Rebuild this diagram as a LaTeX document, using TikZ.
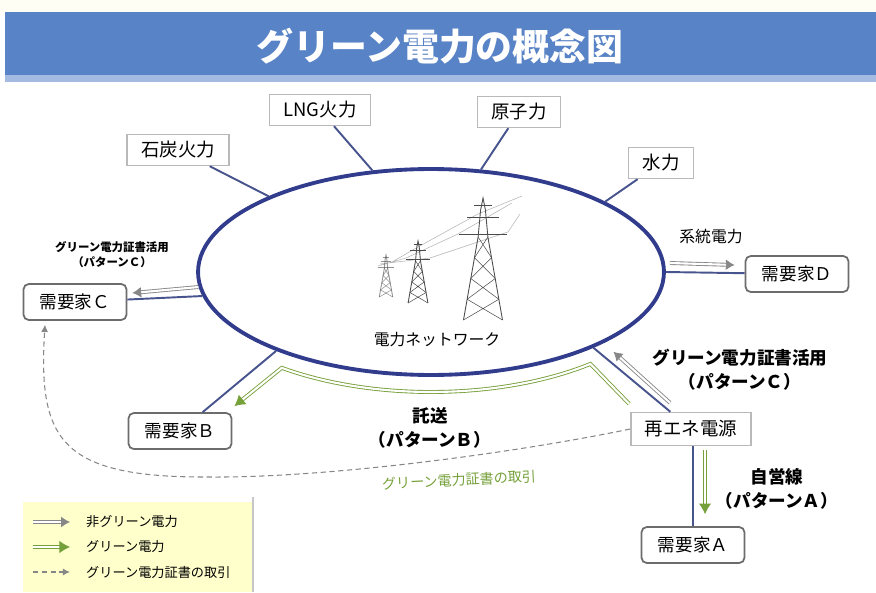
\documentclass[tikz,border=0pt]{standalone}
\usepackage{fontspec}
\setmainfont{Noto Sans CJK JP}
\usetikzlibrary{arrows.meta,shapes.geometric}
\definecolor{barblue}{RGB}{88,131,198}
\definecolor{netblue}{RGB}{50,60,140}
\definecolor{linkblue}{RGB}{72,84,142}
\definecolor{arrgray}{RGB}{135,135,135}
\definecolor{pwrgreen}{RGB}{118,160,58}
\definecolor{legyellow}{RGB}{255,255,204}
\tikzset{
  titletxt/.style={text=white,font=\bfseries\fontsize{21}{24}\selectfont},
  net/.style={ellipse,draw=netblue,line width=2.2pt,inner sep=0pt,
    minimum width=9.32cm,minimum height=4.12cm},
  srcbox/.style={draw=gray!55,fill=white,line width=0.8pt,inner xsep=8pt,
    minimum height=0.62cm,font=\fontsize{10.5}{12}\selectfont},
  custbox/.style={draw=gray!85!black,fill=white,line width=1pt,rounded corners=3pt,
    minimum width=2.06cm,minimum height=0.72cm,font=\fontsize{10}{12}\selectfont},
  link/.style={draw=linkblue,line width=1.1pt},
  gridarr/.style={draw=arrgray,double=white,line width=0.5pt,double distance=1.2pt,
    -{Latex[length=5pt,width=6pt]}},
  greenarr/.style={draw=pwrgreen,double=white,line width=0.5pt,double distance=1.2pt,
    -{Latex[length=6pt,width=7pt]}},
  certarr/.style={draw=arrgray,line width=0.6pt,densely dashed,-{Latex[length=4pt,width=4pt]}},
  lbl/.style={align=center,font=\bfseries\fontsize{10}{13.6}\selectfont},
  smalltxt/.style={font=\fontsize{9}{11}\selectfont},
  legtxt/.style={anchor=west,font=\fontsize{7.5}{9}\selectfont},
  tower/.style={draw=black!70,line width=0.5pt},
  pylon/.pic={
    \draw[tower] (-16,0) -- (-4,-68) -- (-2,-90) -- (0,-100) -- (2,-90) -- (4,-68) -- (16,0);
    \draw[tower] (-20,-70) -- (20,-70) (-13,-84) -- (13,-84) (-7,-94) -- (7,-94);
    \foreach \a/\b in {0/17,17/34,34/51,51/68}
      \draw[tower,line width=0.3pt] ({-16+12*\a/68},-\a) -- ({16-12*\b/68},-\b)
        ({16-12*\a/68},-\a) -- ({-16+12*\b/68},-\b);
  }
}

\begin{document}
\begin{tikzpicture}[x=0.02cm,y=-0.02cm]
\useasboundingbox (0,0) rectangle (876,592);
% title bar
\fill[yellow!4] (0,0) rectangle (876,12);
\fill[barblue] (5,12) rectangle (876,82);
\fill[barblue!55!white] (5,75) rectangle (876,82);
\node[titletxt] (title) at (440,46) {グリーン電力の概念図};

% power network
\node[net] (net) at (431,272) {};
\draw[gray!60,line width=0.3pt] (378,266) -- (406,258) -- (458,234) -- (512,203)
  (380,264) -- (430,258) -- (508,232) -- (520,214)
  (392,262) -- (418,247) -- (478,214) -- (522,196);
\pic[scale=0.42,opacity=0.6] at (386,297) {pylon};
\pic[scale=0.62] at (418,303) {pylon};
\pic[scale=1.22] at (483,320) {pylon};
\node[smalltxt] (netlbl) at (437,340) {電力ネットワーク};

% generators
\node[srcbox] (coal) at (178,150) {石炭火力};
\node[srcbox] (lng) at (320,110) {LNG火力};
\node[srcbox] (nuc) at (519,112) {原子力};
\node[srcbox] (hydro) at (661,163) {水力};
\foreach \s/\a in {coal/155,lng/120,nuc/64,hydro/22}
  \draw[link] (net.\a) -- (\s);

% consumers
\node[custbox] (custC) at (75,302) {需要家Ｃ};
\node[custbox] (custD) at (797,274) {需要家Ｄ};
\node[custbox] (custB) at (180,431) {需要家Ｂ};
\node[custbox] (custA) at (693,545) {需要家Ａ};
\node[srcbox,minimum width=2.14cm,minimum height=0.66cm] (ren) at (691,429) {再エネ電源};

\draw[link] (net.east) -- (custD);
\draw[link] (net.186) -- (custC);
\draw[link] (net.207) -- (custB);
\draw[link] (net.335) -- (ren);
\draw[link] (custA.north |- ren.south) -- (custA.north);

% grid supply
\draw[gridarr] ([shift={(4,-9)}]net.east) -- ([shift={(-10,-9)}]custD.west);
\node[smalltxt] (gridlbl) at (711,237) {系統電力};
\draw[gridarr] ([shift={(-4,-9)}]net.186) -- ([shift={(5,-9)}]custC.east);
\node[lbl,font=\bfseries\fontsize{6.5}{8.5}\selectfont] (certC) at (112,255)
  {グリーン電力証書活用\\（パターンＣ）};

% pattern C
\draw[gridarr] ([shift={(-21,-9)}]ren.north) -- ([shift={(20,4)}]net.335);
\node[lbl] (patC) at (740,370) {グリーン電力証書活用\\（パターンＣ）};

% pattern B
\draw[greenarr] ([shift={(-1,-8)}]ren.north west)
  -- plot[domain=50:127,samples=40] ({431+248*cos(\x)},{272+120*sin(\x)})
  -- ([shift={(2,-6)}]custB.north east);
\node[lbl] (patB) at (430,428) {託送\\（パターンＢ）};

% pattern A
\draw[greenarr] ([shift={(14,4)}]ren.south) -- ([shift={(12,-12)}]custA.north);
\node[lbl] (patA) at (777,489) {自営線\\（パターンＡ）};

% certificate trade
\draw[certarr] (ren.west) .. controls (520,452) and (330,478) .. (210,477)
  .. controls (60,478) and (38,440) .. ([shift={(-30,4)}]custC.south);
\node[text=pwrgreen,rotate=3,font=\fontsize{8}{10}\selectfont] (certlbl) at (459,480)
  {グリーン電力証書の取引};

% legend
\fill[legyellow] (23,502) rectangle (253,592);
\draw[gray!45,line width=1pt] (253,497) -- (253,592);
\foreach \st/\txt [count=\i] in {gridarr/非グリーン電力,greenarr/グリーン電力,certarr/グリーン電力証書の取引}{
  \node[legtxt] (leg\i) at (80,{497+25*\i}) {\txt};
  \draw[\st] ([shift={(-47,0)}]leg\i.west) -- ([shift={(-10,0)}]leg\i.west);
}
\end{tikzpicture}
\end{document}
